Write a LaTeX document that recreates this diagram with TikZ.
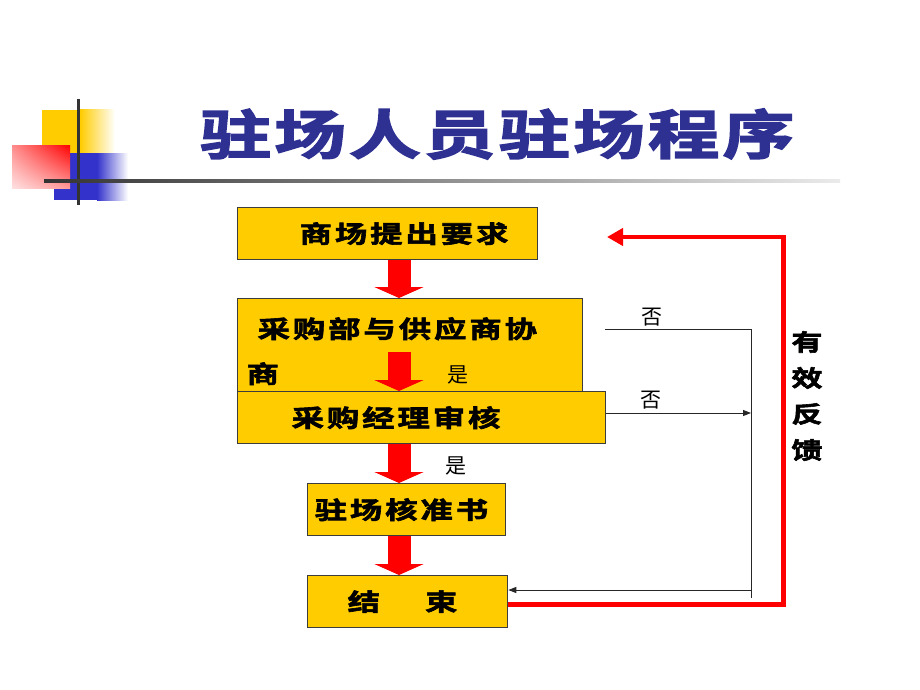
\documentclass[tikz,border=0pt]{standalone}
\usepackage{fontspec}
\usetikzlibrary{arrows.meta,shadings}
\newfontfamily\cjk{Noto Sans CJK SC}
\newfontfamily\cjkheavy{Noto Sans CJK SC}[UprightFont=* Bold, FakeBold=2.5, FakeStretch=1.35, LetterSpace=12]
\newfontfamily\cjktitle{Noto Sans CJK SC}[UprightFont=* Bold, FakeBold=3, FakeStretch=1.35, LetterSpace=6]
\definecolor{boxyellow}{RGB}{255,204,0}
\definecolor{boxline}{RGB}{60,60,60}
\definecolor{titleblue}{RGB}{46,49,146}
\definecolor{decoblue}{RGB}{51,51,204}
\tikzset{
  box-yellow/.style 2 args={
    draw=boxline,
    fill=boxyellow,
    line width=1.3pt,
    anchor=north west,
    inner sep=0pt,
    align=left,
    minimum width=#1,
    text width=#1,
    minimum height=#2,
    font=\cjkheavy\fontsize{24}{45}\selectfont
  },
  flow-red/.style={line width=23pt, draw=red, -{Triangle[width=49pt,length=11pt]}},
  feedback-red/.style={line width=4.5pt, draw=red, -{Triangle[width=17pt,length=16pt]}},
  line-thin/.style={line width=0.9pt, draw=black!85},
  arrow-small/.style={-{Triangle[width=6pt,length=8pt]}},
  label-small/.style={text=black, inner sep=0pt, font=\cjk\fontsize{21}{24}\selectfont}
}

\begin{document}
\begin{tikzpicture}[x=1pt, y=-1pt]
  \useasboundingbox (0,0) rectangle (920,690);
  % Corner ornament
  \fill[boxyellow] (42,110) rectangle (80,160);
  \shade[left color=boxyellow, right color=white] (80,110) rectangle (115,160);
  \fill[decoblue] (54,153) rectangle (97,200);
  \shade[left color=decoblue, right color=white] (97,153) rectangle (128,200);
  \shade[upper left=red!45, upper right=red, lower left=red!12, lower right=red!40] (12,145) rectangle (70,188);
  \draw[line width=3pt, black!80] (78,99) -- (78,205);
  \shade[left color=black!80, right color=black!8] (44,179.5) rectangle (840,182.5);
  % Title
  \node (Title) at (497,134) [text=titleblue, font=\cjktitle\fontsize{53}{60}\selectfont] {驻场人员驻场程序};

  % Boxes
  \node (Req) at (237,207) [box-yellow={300pt}{52pt}] {\hspace*{62pt}商场提出要求};
  \node (Talk) at (237,298) [box-yellow={345pt}{105pt}] {\hspace*{20pt}采购部与供应商协\\\hspace*{9pt}商};
  \node (Check) at (237,391) [box-yellow={368pt}{52pt}] {\hspace*{54pt}采购经理审核};
  \node (Book) at (307,483) [box-yellow={198pt}{52pt}] {\hspace*{7pt}驻场核准书};
  \node (End) at (307,575) [box-yellow={200pt}{52pt}] {\hspace*{40pt}结\hspace{45pt}束};

  % Main flow
  \coordinate (Axis) at (399,0);
  \coordinate (Split) at (399,352);
  \draw[flow-red] (Req.south -| Axis) -- (Talk.north -| Axis);
  \draw[flow-red] (Split) -- node[label-small, pos=.6, right=37pt] {是} (Check.north -| Axis);
  \draw[flow-red] (Check.south -| Axis) -- node[label-small, pos=.55, right=35pt] {是} (Book.north -| Axis);
  \draw[flow-red] (Book.south -| Axis) -- (End.north -| Axis);

  % Rejections
  \coordinate (NoStart) at (605,329);
  \coordinate (NoTop) at (751,329);
  \coordinate (NoMid) at (751,413);
  \coordinate (NoBack) at (751,590);
  \coordinate (NoBottom) at (751,598);
  \draw[line-thin] (NoStart) -- node[label-small, pos=.32, above=2pt] {否} (NoTop) -- (NoBottom);
  \draw[line-thin, arrow-small] (Check.east |- NoMid) -- node[label-small, pos=.31, above=3pt] {否} (NoMid);
  \draw[line-thin, arrow-small] (NoBack) -- (End.east |- NoBack);

  % Feedback loop
  \coordinate (Back) at (607,237);
  \draw[feedback-red] ([yshift=-3pt]End.east) -- ++(275,0) |- (Back);
  \node (Feedback) at (807,396) [align=center, font=\cjkheavy\fontsize{23}{36}\selectfont] {有\\效\\反\\馈};
\end{tikzpicture}
\end{document}
